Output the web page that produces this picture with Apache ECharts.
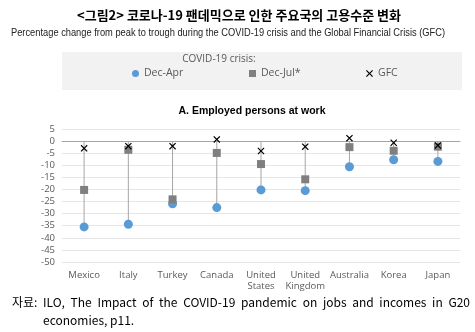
<!DOCTYPE html>
<html><head><meta charset="utf-8">
<script src="https://cdn.jsdelivr.net/npm/echarts@6/dist/echarts.min.js"></script>
<style>html,body{margin:0;padding:0;background:#fff}#c{width:475px;height:332px}</style>
</head><body><div id="c"></div>
<script>
const categories = ['Mexico','Italy','Turkey','Canada','United\nStates','United\nKingdom','Australia','Korea','Japan'];
const decApr = [-35.5,-34.4,-25.9,-27.5,-20.2,-20.5,-10.6,-7.7,-8.4];
const decJul = [-20.2,-3.6,-24.1,-4.9,-9.5,-15.8,-2.5,-4.0,-2.3];
const gfc = [-3.0,-2.1,-2.1,0.7,-4.1,-2.3,1.2,-0.7,-1.8];
const yMin = -50, yMax = 5, yStep = 5;
const seriesNames = ['Dec-Apr','Dec-Jul*','GFC'];
const mainTitle = '<그림2> 코로나-19 팬데믹으로 인한 주요국의 고용수준 변화';
const subTitle = 'Percentage change from peak to trough during the COVID-19 crisis and the Global Financial Crisis (GFC)';
const panelTitle = 'A. Employed persons at work';
const legendTitle = 'COVID-19 crisis:';
const sourceLabel = '자료:';
const sourceLine1 = 'ILO, The Impact of the COVID-19 pandemic on jobs and incomes in G20';
const sourceLine2 = 'economies, p11.';

const X_PATH = 'path://M0,1.2L1.2,0L5,3.8L8.8,0L10,1.2L6.2,5L10,8.8L8.8,10L5,6.2L1.2,10L0,8.8L3.8,5Z';

const ctx = document.createElement('canvas').getContext('2d');

// subtitle squeezed to reference width (narrow font look)
const subFont = '11px "Liberation Sans"';
ctx.font = subFont;
const subScale = 434 / ctx.measureText(subTitle).width;

// justified first source line
const footFont = '12px "Noto Sans CJK KR"';
ctx.font = footFont;
const words = sourceLine1.split(' ');
const x0 = 43, x1 = 470;
const wW = words.map(w => ctx.measureText(w).width);
const gap = (x1 - x0 - wW.reduce((a,b)=>a+b,0)) / (words.length - 1);
const footChildren = [];
let cx = x0;
words.forEach((w,i) => {
  footChildren.push({type:'text', x:cx, y:302, style:{text:w, font:footFont, fill:'#000', verticalAlign:'middle'}});
  cx += wW[i] + gap;
});

const legendText = {color:'#595959', fontSize:10.5, fontFamily:'Open Sans'};

const chart = echarts.init(document.getElementById('c'));
chart.setOption({
  animation:false,
  textStyle:{fontFamily:'Liberation Sans'},
  graphic:[
    {type:'rect', shape:{x:62,y:52,width:400,height:38}, style:{fill:'#f2f2f2'}, z:-10},
    {type:'text', x:239, y:15, style:{text:mainTitle, font:'bold 13px "Noto Sans CJK KR"', fill:'#000', align:'center', verticalAlign:'middle'}},
    {type:'text', x:228, y:33, scaleX:subScale, style:{text:subTitle, font:subFont, fill:'#222', align:'center', verticalAlign:'middle'}},
    {type:'text', x:219, y:59, style:{text:legendTitle, font:'10px "Open Sans"', fill:'#595959', align:'center', verticalAlign:'middle'}},
    {type:'text', x:252, y:111, style:{text:panelTitle, font:'bold 10.5px "Liberation Sans"', fill:'#000', align:'center', verticalAlign:'middle'}},
    {type:'text', x:12, y:302, style:{text:sourceLabel, font:footFont, fill:'#000', verticalAlign:'middle'}},
    {type:'group', children:footChildren},
    {type:'text', x:43, y:320, style:{text:sourceLine2, font:footFont, fill:'#000', verticalAlign:'middle'}}
  ],
  legend:[
    {data:[seriesNames[0]], left:132, top:68, padding:0, itemWidth:7, itemHeight:7, icon:'circle', textStyle:legendText},
    {data:[seriesNames[1]], left:249, top:68, padding:0, itemWidth:7, itemHeight:7, icon:'rect', textStyle:legendText},
    {data:[seriesNames[2]], left:366, top:68, padding:0, itemWidth:7, itemHeight:7, icon:X_PATH, textStyle:legendText}
  ],
  grid:{left:62, right:15, top:129, bottom:70, containLabel:false},
  xAxis:{
    type:'category', data:categories,
    axisLine:{onZero:true, lineStyle:{color:'#a6a6a6', width:1}},
    axisTick:{show:false},
    axisLabel:{color:'#595959', fontSize:9.5, margin:8, lineHeight:11, interval:0, fontFamily:'Open Sans'}
  },
  yAxis:{
    type:'value', min:yMin, max:yMax, interval:yStep,
    axisLine:{show:false}, axisTick:{show:false},
    axisLabel:{color:'#595959', fontSize:9.5, margin:7, fontFamily:'Open Sans'},
    splitLine:{lineStyle:{color:'#e6e6e6', width:1}}
  },
  series:[
    {type:'bar', name:'stick', data:decApr, barWidth:1, itemStyle:{color:'#a6a6a6'}, z:1, silent:true},
    {type:'scatter', name:seriesNames[0], data:decApr, symbol:'circle', symbolSize:9, itemStyle:{color:'#5b9bd5', opacity:1}, z:3},
    {type:'scatter', name:seriesNames[1], data:decJul, symbol:'rect', symbolSize:8, itemStyle:{color:'#7f7f7f', opacity:1}, z:4},
    {type:'scatter', name:seriesNames[2], data:gfc, symbol:X_PATH, symbolSize:7, itemStyle:{color:'#000', opacity:1}, z:5}
  ]
});
</script></body></html>
